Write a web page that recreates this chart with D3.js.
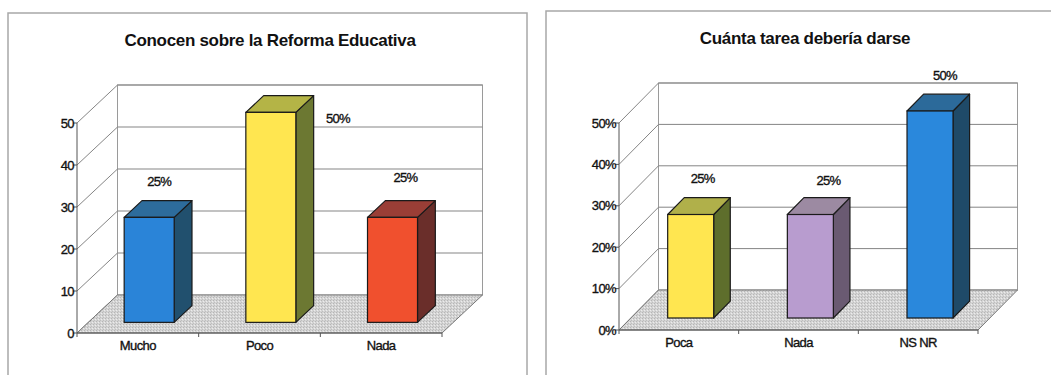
<!DOCTYPE html>
<html>
<head>
<meta charset="utf-8">
<script src="https://cdn.jsdelivr.net/npm/d3@7"></script>
<style>
  html, body { margin: 0; padding: 0; background: #fff; }
  svg { display: block; font-family: "Liberation Sans", Arial, sans-serif; }
</style>
</head>
<body>
<svg id="chart" width="1051" height="375"></svg>
<script>
// Survey results: knowledge of the education reform
const reformTitle = "Conocen sobre la Reforma Educativa";
const reformCategories = ["Mucho", "Poco", "Nada"];
const reformValues = [25, 50, 25];
const reformTicks = [0, 10, 20, 30, 40, 50];

// Survey results: how much homework should be given
const homeworkTitle = "Cuánta tarea debería darse";
const homeworkCategories = ["Poca", "Nada", "NS NR"];
const homeworkValues = [0.25, 0.25, 0.5];
const homeworkTicks = [0, 0.1, 0.2, 0.3, 0.4, 0.5];

const svg = d3.select("#chart");

// dotted grey texture for the floor of each 3D plot
const defs = svg.append("defs");
const pat = defs.append("pattern").attr("id", "floorDots")
  .attr("width", 3).attr("height", 3).attr("patternUnits", "userSpaceOnUse");
pat.append("rect").attr("width", 3).attr("height", 3).attr("fill", "#d4d4d4");
pat.append("rect").attr("x", 0).attr("y", 0).attr("width", 1).attr("height", 1).attr("fill", "#b6b6b6");
pat.append("rect").attr("x", 2).attr("y", 1).attr("width", 1).attr("height", 1).attr("fill", "#ececec");
pat.append("rect").attr("x", 1).attr("y", 2).attr("width", 1).attr("height", 1).attr("fill", "#bfbfbf");

function panel(x, y, w, h) {
  svg.append("rect").attr("x", x).attr("y", y).attr("width", w).attr("height", h)
    .attr("fill", "#fff").attr("stroke", "#a8a8a8").attr("stroke-width", 1.5);
}

// small text is drawn slightly heavier than the regular weight
function smallText(sel, size, spacing) {
  return sel.attr("font-size", size).attr("letter-spacing", spacing)
    .attr("fill", "#111").attr("stroke", "#111").attr("stroke-width", 0.35);
}

function drawChart(cfg) {
  const g = svg.append("g");
  const x = d3.scaleBand().domain(cfg.categories).range([cfg.x0, cfg.x1]);
  const y = d3.scaleLinear().domain([0, cfg.max]).range([cfg.y0, cfg.yTop]);
  const dx = cfg.dx, dy = cfg.dy;
  const gridCol = "#858585";

  // title
  g.append("text").attr("x", cfg.titleX).attr("y", cfg.titleY)
    .attr("text-anchor", "middle").attr("font-size", 17).attr("font-weight", "bold")
    .attr("letter-spacing", -0.3).attr("fill", "#111").text(cfg.title);

  // back wall
  g.append("rect").attr("x", cfg.x0 + dx).attr("y", y(cfg.max) + dy)
    .attr("width", cfg.x1 - cfg.x0).attr("height", y(0) - y(cfg.max))
    .attr("fill", "#fff").attr("stroke", "#9a9a9a").attr("stroke-width", 1);

  // back-wall gridlines and side-wall diagonals
  g.selectAll(".bgrid").data(cfg.ticks.slice(1)).join("line")
    .attr("x1", cfg.x0 + dx).attr("x2", cfg.x1 + dx)
    .attr("y1", d => y(d) + dy).attr("y2", d => y(d) + dy)
    .attr("stroke", gridCol).attr("stroke-width", 1);
  g.selectAll(".sgrid").data(cfg.ticks).join("line")
    .attr("x1", cfg.x0).attr("x2", cfg.x0 + dx)
    .attr("y1", d => y(d)).attr("y2", d => y(d) + dy)
    .attr("stroke", gridCol).attr("stroke-width", 1);

  // floor
  const floor = [[cfg.x0, y(0)], [cfg.x1, y(0)], [cfg.x1 + dx, y(0) + dy], [cfg.x0 + dx, y(0) + dy]];
  g.append("polygon").attr("points", floor.map(p => p.join(",")).join(" "))
    .attr("fill", "url(#floorDots)").attr("stroke", "#777").attr("stroke-width", 1);

  // front axis lines
  g.append("line").attr("x1", cfg.x0).attr("x2", cfg.x0)
    .attr("y1", y(0)).attr("y2", y(cfg.max)).attr("stroke", "#555").attr("stroke-width", 1);
  g.append("line").attr("x1", cfg.x0).attr("x2", cfg.x1)
    .attr("y1", y(0)).attr("y2", y(0)).attr("stroke", "#555").attr("stroke-width", 1.2);

  // y ticks and labels
  g.selectAll(".ytick").data(cfg.ticks).join("line")
    .attr("x1", cfg.x0 - 4).attr("x2", cfg.x0)
    .attr("y1", d => y(d)).attr("y2", d => y(d)).attr("stroke", "#555");
  smallText(g.selectAll(".ylab").data(cfg.ticks).join("text"), 13, -0.6)
    .attr("x", cfg.x0 - 3).attr("y", d => y(d)).attr("dy", "0.36em")
    .attr("text-anchor", "end").text(cfg.tickFormat);

  // x ticks at category boundaries
  const bounds = d3.range(cfg.categories.length + 1).map(i => cfg.x0 + i * x.step());
  g.selectAll(".xtick").data(bounds).join("line")
    .attr("x1", d => d).attr("x2", d => d)
    .attr("y1", y(0)).attr("y2", y(0) + 4).attr("stroke", "#555");

  // category labels
  smallText(g.selectAll(".xlab").data(cfg.categories).join("text"), 13, -0.6)
    .attr("x", d => x(d) + x.bandwidth() / 2).attr("y", y(0) + cfg.catDy)
    .attr("text-anchor", "middle").text(d => d);

  // 3D bars
  const bw = cfg.barWidth;
  const ddx = (cfg.d1 - cfg.d0) * dx, ddy = (cfg.d1 - cfg.d0) * dy;
  cfg.values.forEach((v, i) => {
    const c = cfg.categories[i];
    const fx0 = x(c) + x.bandwidth() / 2 - bw / 2 + cfg.d0 * dx;
    const fx1 = fx0 + bw;
    const fyb = y(0) + cfg.d0 * dy;
    const fyt = y(v) + cfg.d0 * dy;
    const col = cfg.colors[i];
    const poly = pts => pts.map(p => p.join(",")).join(" ");
    g.append("polygon").attr("points", poly([[fx1, fyt], [fx1 + ddx, fyt + ddy], [fx1 + ddx, fyb + ddy], [fx1, fyb]]))
      .attr("fill", col.side).attr("stroke", "#1a1a1a").attr("stroke-width", 1.2).attr("stroke-linejoin", "round");
    g.append("polygon").attr("points", poly([[fx0, fyt], [fx1, fyt], [fx1 + ddx, fyt + ddy], [fx0 + ddx, fyt + ddy]]))
      .attr("fill", col.top).attr("stroke", "#1a1a1a").attr("stroke-width", 1.2).attr("stroke-linejoin", "round");
    g.append("rect").attr("x", fx0).attr("y", fyt).attr("width", bw).attr("height", fyb - fyt)
      .attr("fill", col.front).attr("stroke", "#1a1a1a").attr("stroke-width", 1.2);
    const off = cfg.labelShift[i];
    smallText(g.append("text"), 13, -0.7)
      .attr("x", fx0 + bw / 2 + off[0]).attr("y", fyt + off[1]).attr("dy", "0.36em")
      .attr("text-anchor", "middle").text(cfg.valueFormat(v));
  });
}

panel(8, 13, 519, 375);
panel(546, 11, 520, 375);

drawChart({
  title: reformTitle, titleX: 270, titleY: 46,
  categories: reformCategories, values: reformValues, ticks: reformTicks, max: 50,
  tickFormat: d => d, valueFormat: v => v + "%",
  x0: 77, x1: 442, y0: 333, yTop: 123, dx: 40.5, dy: -38,
  d0: 0.28, d1: 0.72, barWidth: 50, catDy: 17,
  labelShift: [[10, -36], [67, 6], [13, -40]],
  colors: [
    { front: "#2a84d8", top: "#2d6c9c", side: "#21506e" },
    { front: "#ffe650", top: "#b4b446", side: "#6c7832" },
    { front: "#f0502e", top: "#9a3e36", side: "#6a2e2a" }
  ]
});

drawChart({
  title: homeworkTitle, titleX: 805, titleY: 44,
  categories: homeworkCategories, values: homeworkValues, ticks: homeworkTicks, max: 0.5,
  tickFormat: d3.format(".0%"), valueFormat: d3.format(".0%"),
  x0: 619, x1: 978, y0: 330, yTop: 123, dx: 39.5, dy: -40,
  d0: 0.3, d1: 0.72, barWidth: 46, catDy: 17,
  labelShift: [[12, -36], [18, -34], [15, -36]],
  colors: [
    { front: "#ffe650", top: "#b0b04a", side: "#5e6e2c" },
    { front: "#b89ccf", top: "#9c8aa2", side: "#6a5a72" },
    { front: "#2a88dc", top: "#2c6a9a", side: "#1f4a68" }
  ]
});
</script>
</body>
</html>
